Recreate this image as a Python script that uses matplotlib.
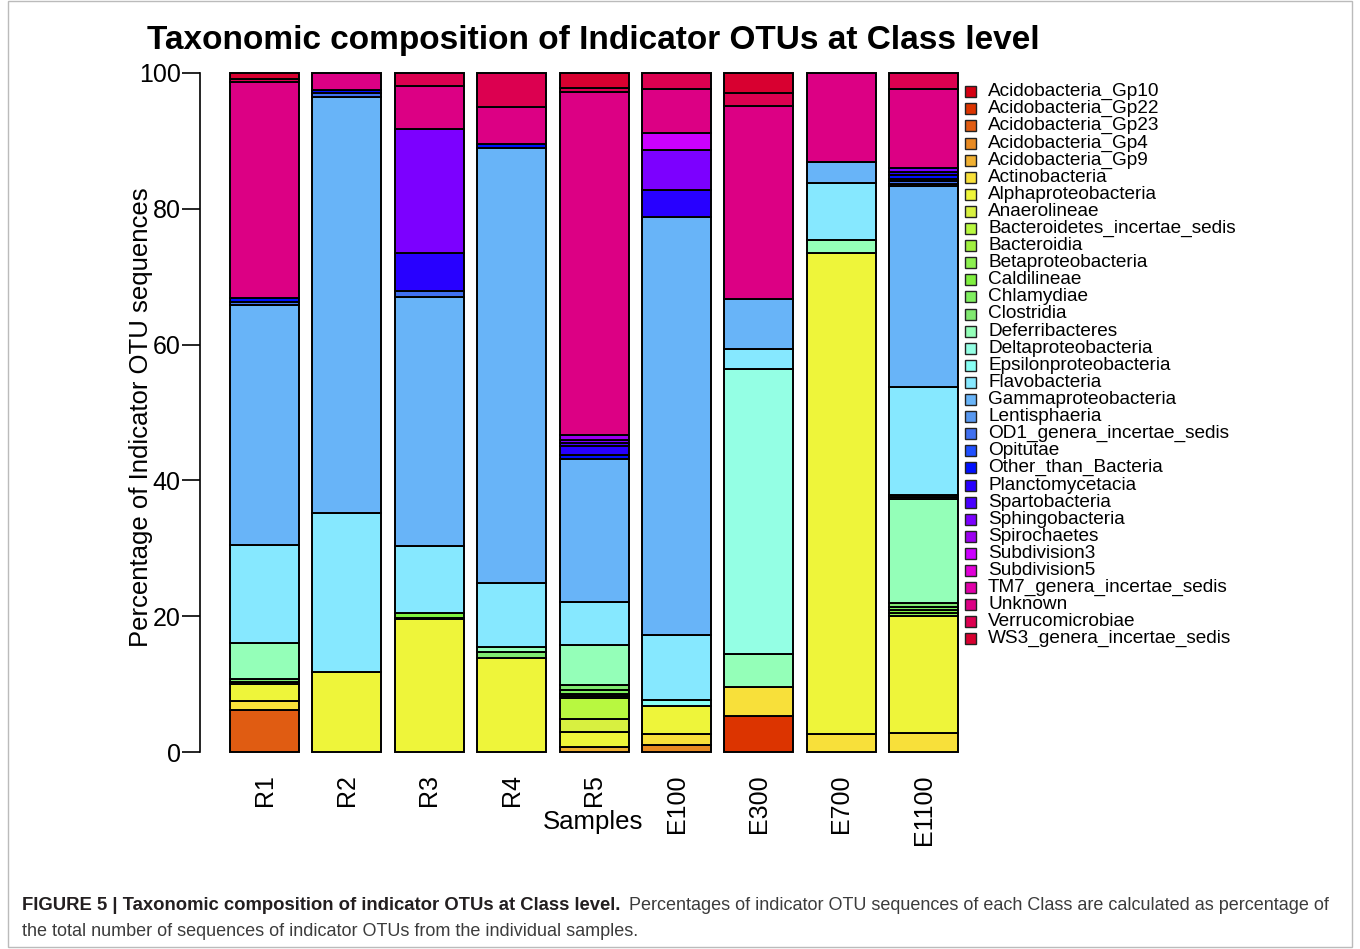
import numpy as np
import matplotlib
matplotlib.use('Agg')
import matplotlib.pyplot as plt
from matplotlib.patches import Rectangle

plt.rcParams['font.family'] = ['Liberation Sans', 'DejaVu Sans']

# class names (stacking order, bottom -> top) and their colours
classes = ['Acidobacteria_Gp10', 'Acidobacteria_Gp22', 'Acidobacteria_Gp23', 'Acidobacteria_Gp4',
           'Acidobacteria_Gp9', 'Actinobacteria', 'Alphaproteobacteria', 'Anaerolineae',
           'Bacteroidetes_incertae_sedis', 'Bacteroidia', 'Betaproteobacteria', 'Caldilineae',
           'Chlamydiae', 'Clostridia', 'Deferribacteres', 'Deltaproteobacteria',
           'Epsilonproteobacteria', 'Flavobacteria', 'Gammaproteobacteria', 'Lentisphaeria',
           'OD1_genera_incertae_sedis', 'Opitutae', 'Other_than_Bacteria', 'Planctomycetacia',
           'Spartobacteria', 'Sphingobacteria', 'Spirochaetes', 'Subdivision3', 'Subdivision5',
           'TM7_genera_incertae_sedis', 'Unknown', 'Verrucomicrobiae', 'WS3_genera_incertae_sedis']
colors = ['#d40012', '#dc3400', '#e05c12', '#e88a22', '#f0b032', '#f8e03a', '#eef53a', '#d8f040',
          '#b8f840', '#a0f040', '#8cf050', '#80f040', '#80f060', '#80e870', '#94ffb8', '#94ffe4',
          '#88fff4', '#86e8ff', '#68b4f8', '#5898f0', '#4070f0', '#2050ff', '#0010ff', '#2800ff',
          '#4800ff', '#7c00ff', '#9c00f0', '#cc00ff', '#e000d8', '#e000a8', '#dc0084', '#dc0050',
          '#d80030']

samples = ['R1', 'R2', 'R3', 'R4', 'R5', 'E100', 'E300', 'E700', 'E1100']

# percentages per sample, one value per class (same order as classes)
R1 = [0, 0, 6.2, 0, 0, 1.3, 2.5, 0.3, 0, 0, 0,
      0, 0, 0.45, 5.3, 0, 0, 14.45, 35.4, 0, 0.4, 0,
      0.6, 0, 0, 0, 0, 0, 0, 0, 31.8, 0.4, 0.9]
R2 = [0, 0, 0, 0, 0, 0, 11.8, 0, 0, 0, 0,
      0, 0, 0, 0, 0, 0, 23.4, 61.2, 0, 0.6, 0,
      0.5, 0, 0, 0, 0, 0, 0, 0, 2.5, 0, 0]
R3 = [0, 0, 0, 0, 0, 0, 19.6, 0, 0, 0, 0.2,
      0.6, 0, 0, 0, 0, 0, 9.9, 36.75, 0, 0.85, 0,
      0, 5.6, 0, 18.25, 0, 0, 0, 0, 6.35, 1.9, 0]
R4 = [0, 0, 0, 0, 0, 0, 13.9, 0, 0, 0, 0,
      0, 0, 0.8, 0.8, 0, 0, 9.4, 64.0, 0, 0, 0,
      0.7, 0, 0, 0, 0, 0, 0, 0, 5.4, 5.0, 0]
R5 = [0, 0, 0, 0, 0.8, 0, 2.1, 1.9, 3.1, 0, 0.3,
      0.3, 0.6, 0.7, 5.9, 0, 0, 6.4, 21.0, 0, 0, 0,
      0.6, 1.4, 0.4, 0.5, 0.7, 0, 0, 0, 50.55, 0.55, 2.2]
E100 = [0, 0, 0, 1.1, 0, 1.5, 4.2, 0, 0, 0, 0,
        0, 0, 0, 0, 0, 0.8, 9.6, 61.65, 0, 0, 0,
        0, 3.95, 0, 5.9, 0, 2.5, 0, 0, 6.4, 2.4, 0]
E300 = [0, 5.3, 0, 0, 0, 4.2, 0, 0, 0, 0, 0,
        0, 0, 0, 5.0, 41.85, 0, 3.0, 7.35, 0, 0, 0,
        0, 0, 0, 0, 0, 0, 0, 0, 28.5, 1.85, 2.95]
E700 = [0, 0, 0, 0, 0, 2.6, 70.85, 0, 0, 0, 0,
        0, 0, 0, 1.9, 0, 0, 8.5, 3.1, 0, 0, 0,
        0, 0, 0, 0, 0, 0, 0, 0, 13.05, 0, 0]
E1100 = [0, 0, 0, 0, 0, 2.75, 17.25, 0, 0, 0, 0.4,
         0.5, 0.5, 0.5, 15.3, 0.3, 0.3, 16.0, 29.55, 0.3, 0.4, 0.4,
         0.5, 0.5, 0, 0.5, 0, 0, 0, 0, 11.75, 2.3, 0]

data = np.array([R1, R2, R3, R4, R5, E100, E300, E700, E1100])

W, H = 1360, 949
fig = plt.figure(figsize=(W / 100, H / 100), dpi=100)

# plot region in pixels: y axis at x=200, 0..100 spans y=752..73
ax = fig.add_axes([200 / W, 1 - 752 / H, (965 - 200) / W, (752 - 73) / H])
x = np.arange(len(samples))
bottoms = np.zeros(len(samples))
for j in range(len(classes)):
    vals = data[:, j]
    m = vals > 0
    ax.bar(x[m], vals[m], bottom=bottoms[m], width=0.837, color=colors[j],
           edgecolor='black', linewidth=1.4, clip_on=False)
    bottoms += vals

ax.set_xlim(-0.783, 8.501)
ax.set_ylim(0, 100)
for s in ['top', 'right', 'bottom']:
    ax.spines[s].set_visible(False)
ax.spines['left'].set_linewidth(1.2)
ax.set_yticks([0, 20, 40, 60, 80, 100])
ax.tick_params(axis='y', length=13, width=1.2, labelsize=18, pad=1)
ax.set_xticks(x)
ax.set_xticklabels(samples, rotation=90, va='top')
ax.tick_params(axis='x', length=0, labelsize=18, pad=16)

fig.text(141 / W, 1 - 417 / H, 'Percentage of Indicator OTU sequences', rotation=90,
         ha='center', va='center', fontsize=18.5)
fig.text(593 / W, 1 - 40 / H, 'Taxonomic composition of Indicator OTUs at Class level',
         ha='center', va='center', fontsize=24, fontweight='bold')
fig.text(593 / W, 1 - 822 / H, 'Samples', ha='center', va='center', fontsize=18.5)

# legend on the right
for i, name in enumerate(classes):
    yc = 91.7 + 17.1 * i
    fig.add_artist(Rectangle((965 / W, 1 - (yc + 5.5) / H), 11 / W, 11 / H,
                             transform=fig.transFigure, facecolor=colors[i],
                             edgecolor='#222222', linewidth=1.0))
    fig.text(988 / W, 1 - yc / H, name, ha='left', va='center', fontsize=13.7)

# caption
renderer = fig.canvas.get_renderer()


def fit_text(x0, y0, s, width_px, **kw):
    t = fig.text(x0 / W, 1 - y0 / H, s, ha='left', va='center', **kw)
    w = t.get_window_extent(renderer=renderer).width
    t.set_fontsize(t.get_fontsize() * width_px / w)
    return t


fit_text(22, 906, 'FIGURE 5 | Taxonomic composition of indicator OTUs at Class level.', 601,
         fontweight='bold', color='#231f20', fontsize=13)
fit_text(629, 906, 'Percentages of indicator OTU sequences of each Class are calculated as percentage of',
         699, color='#3c3c3c', fontsize=13)
fit_text(22, 931, 'the total number of sequences of indicator OTUs from the individual samples.', 614,
         color='#3c3c3c', fontsize=13)

# light frame around the whole figure panel
fig.add_artist(Rectangle((8 / W, 1 - 947 / H), (1352 - 8) / W, 946 / H, transform=fig.transFigure,
                         fill=False, edgecolor='#bbbbbb', linewidth=1.0))

fig.savefig('out.png', dpi=100)
